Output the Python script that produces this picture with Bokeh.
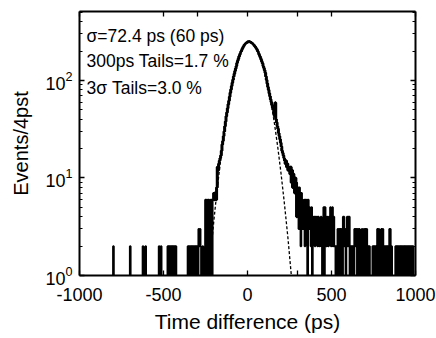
import numpy as np
from bokeh.plotting import figure
from bokeh.models import Range1d, FixedTicker, Label, LogAxis, LinearAxis
from bokeh.embed import file_html
from bokeh.resources import INLINE

# ---------------- data ----------------
bin_width = 4  # ps
t_lo, t_hi = -1000, 1000

# sparse bins of the left tail: bin left edge (ps) and events
left_tail_t = [-800, -700, -624, -608, -528, -516,
               -476, -468, -460, -452, -444, -436, -428,
               -356, -348, -340, -332, -324, -316, -308, -300,
               -292, -288, -284, -280, -268]
left_tail_n = [2, 2, 2, 2, 2, 2,
               2, 2, 2, 2, 2, 2, 2,
               2, 2, 2, 2, 2, 2, 2, 2,
               3, 2, 3, 2, 2]

# core of the distribution, consecutive 4 ps bins starting at -260 ps
core_start = -260
core_counts = [
    0, 0, 6, 5, 6, 0, 6, 6, 0, 5,
    6, 6, 0, 6, 7, 6, 7, 7, 6, 8,
    13, 12, 14, 15, 16, 17, 19, 22, 24, 27,
    30, 34, 38, 43, 47, 52, 57, 62, 68, 75,
    81, 88, 95, 102, 110, 117, 125, 133, 141, 151,
    159, 167, 176, 184, 191, 198, 206, 213, 220, 226,
    232, 237, 241, 244, 247, 249, 250, 251, 249, 247,
    245, 242, 239, 235, 231, 226, 222, 217, 211, 205,
    198, 191, 184, 177, 170, 163, 156, 149, 141, 134,
    127, 120, 110, 101, 93, 86, 80, 74, 69, 64,
    60, 56, 53, 50, 46, 43, 59, 40, 37, 34,
    32, 29, 27, 25, 23, 21, 19, 18, 17, 16,
    15, 14, 15, 13, 14, 12, 13, 12, 11, 13,
    9, 12, 8, 11, 10, 7, 10, 9, 4, 8,
]

# sparse bins of the right tail
right_tail_t = [300, 304, 308, 312, 316, 320, 324, 328, 332, 336,
                340, 344, 348, 352, 360, 364, 368, 372, 376, 380,
                388, 392, 396, 400, 404, 408, 412, 416, 420, 424,
                428, 432, 436, 440, 448, 452, 460, 464, 468, 472,
                476, 480, 484, 488, 492, 496, 500, 504, 508, 512,
                516, 520, 528, 536, 540, 544, 552, 556, 560, 568,
                572, 576, 580, 588, 592, 596, 600, 604, 612, 620,
                628, 636, 640, 644, 648, 656, 660, 664, 672, 680,
                688, 692, 700, 704, 708, 716, 724, 744, 752, 760,
                768, 772, 780, 788, 796, 804, 812, 820, 828, 836,
                844, 848, 856, 880, 888, 896, 904, 912, 920, 928,
                936, 944, 952, 960, 968, 976, 984]
right_tail_n = [7, 3, 8, 5, 2, 7, 6, 3, 5, 6,
                2, 6, 4, 6, 6, 3, 5, 4, 2, 5,
                4, 3, 4, 2, 4, 3, 4, 2, 4, 3,
                2, 3, 4, 2, 3, 5, 5, 3, 2, 4,
                3, 2, 4, 3, 5, 2, 4, 5, 2, 4,
                2, 2, 2, 3, 2, 3, 3, 2, 3, 4,
                4, 2, 3, 2, 4, 2, 4, 4, 2, 2,
                2, 3, 3, 2, 3, 3, 2, 3, 2, 3,
                2, 3, 3, 2, 3, 2, 2, 2, 2, 2,
                2, 3, 3, 2, 3, 3, 2, 2, 2, 2,
                3, 3, 2, 2, 2, 2, 2, 2, 2, 2,
                2, 2, 2, 2, 2, 2, 2]

# Gaussian fit (dashed)
fit_t = [-260, -240, -220, -200, -180, -160, -140, -120, -100, -80, -60, -40,
         -20, 0, 20, 40, 60, 80, 100, 120, 140, 160, 180, 200, 220, 240, 260, 280]
fit_n = [0.25, 0.66, 1.6, 3.7, 7.8, 15.3, 27.9, 47.4, 74.7, 110, 150, 190,
         224, 245, 249, 236, 208, 170, 129, 91, 60, 36.7, 20.8, 11, 5.4, 2.5, 1.04, 0.41]

x_ticks = [-1000, -500, -300, 0, 300, 500, 1000]
x_tick_text = {-1000: "-1000", -500: "-500", -300: "", 0: "0", 300: "", 500: "500", 1000: "1000"}
annotations = ["\u03c3=72.4 ps (60 ps)", "300ps Tails=1.7 %", "3\u03c3 Tails=3.0 %"]

# ---------------- build the histogram ----------------
edges = np.arange(t_lo, t_hi + bin_width, bin_width)
counts = np.zeros(len(edges) - 1)


def bin_index(t):
    return int(round((t - t_lo) / bin_width))


for t, n in zip(left_tail_t, left_tail_n):
    counts[bin_index(t)] = n
for k, n in enumerate(core_counts):
    counts[bin_index(core_start + bin_width * k)] = n
for t, n in zip(right_tail_t, right_tail_n):
    counts[bin_index(t)] = n

plot_counts = np.where(counts > 0, counts, 0.2)
step_x = np.repeat(edges, 2)[1:-1]
step_y = np.repeat(plot_counts, 2)

# ---------------- figure ----------------
FONT = "Liberation Sans"
p = figure(width=436, height=338, y_axis_type="log",
           x_range=Range1d(t_lo, t_hi), y_range=Range1d(1, 510),
           output_backend="svg", toolbar_location=None,
           min_border_left=79, min_border_right=21,
           min_border_top=11, min_border_bottom=63)
p.outline_line_color = None
p.xgrid.visible = False
p.ygrid.visible = False
p.background_fill_color = "white"
p.border_fill_color = "white"

p.line(step_x, step_y, line_color="black", line_width=2.0)
# the dense core of the histogram reads thicker in the reference
core_mask = (step_x >= -200) & (step_x <= 300)
p.line(step_x[core_mask], step_y[core_mask], line_color="black", line_width=3.0)
p.line(fit_t, fit_n, line_color="black", line_width=1.3, line_dash="3 2")

xt = FixedTicker(ticks=x_ticks)
ymaj = [1, 10, 100]
ymin = [2, 3, 4, 5, 6, 7, 8, 9, 20, 30, 40, 50, 60, 70, 80, 90, 200, 300, 400, 500]
yt = FixedTicker(ticks=ymaj, minor_ticks=ymin)


def style_axis(ax):
    ax.axis_line_width = 2
    ax.axis_line_color = "black"
    ax.major_tick_in = 5
    ax.major_tick_out = 0
    ax.minor_tick_in = 3
    ax.minor_tick_out = 0
    ax.major_tick_line_width = 1.3
    ax.minor_tick_line_width = 1.1
    ax.major_label_text_font = FONT
    ax.major_label_text_color = "black"
    ax.axis_label_text_font = FONT
    ax.axis_label_text_font_style = "normal"
    ax.axis_label_text_color = "black"


xa = p.xaxis[0]
xa.ticker = xt
xa.major_label_overrides = x_tick_text
style_axis(xa)
xa.major_label_text_font_size = "18px"
xa.major_label_standoff = 12
xa.axis_label = "Time difference (ps)"
xa.axis_label_text_font_size = "21px"
xa.axis_label_standoff = 6
xa.minor_tick_in = 0

ya = p.yaxis[0]
ya.ticker = yt
style_axis(ya)
ya.major_label_text_font_size = "18px"
ya.major_label_standoff = 7
ya.axis_label = "Events/4pst"
ya.axis_label_text_font_size = "20px"
ya.axis_label_standoff = 10

# mirror axes: tick marks only, labels not painted
top = LinearAxis(ticker=xt)
style_axis(top)
top.minor_tick_in = 0
top.major_label_text_font_size = "2px"
top.major_label_text_color = None
top.major_label_standoff = 0
p.add_layout(top, "above")

right = LogAxis(ticker=yt)
style_axis(right)
right.major_label_text_font_size = "2px"
right.major_label_text_color = None
right.major_label_standoff = 0
p.add_layout(right, "right")

ann_y = [283, 158, 84]
for txt, yy in zip(annotations, ann_y):
    p.add_layout(Label(x=-958, y=yy, text=txt, text_font=FONT,
                       text_font_size="17.5px", text_color="black",
                       text_baseline="alphabetic"))

open("out.html", "w").write(file_html(p, INLINE))
